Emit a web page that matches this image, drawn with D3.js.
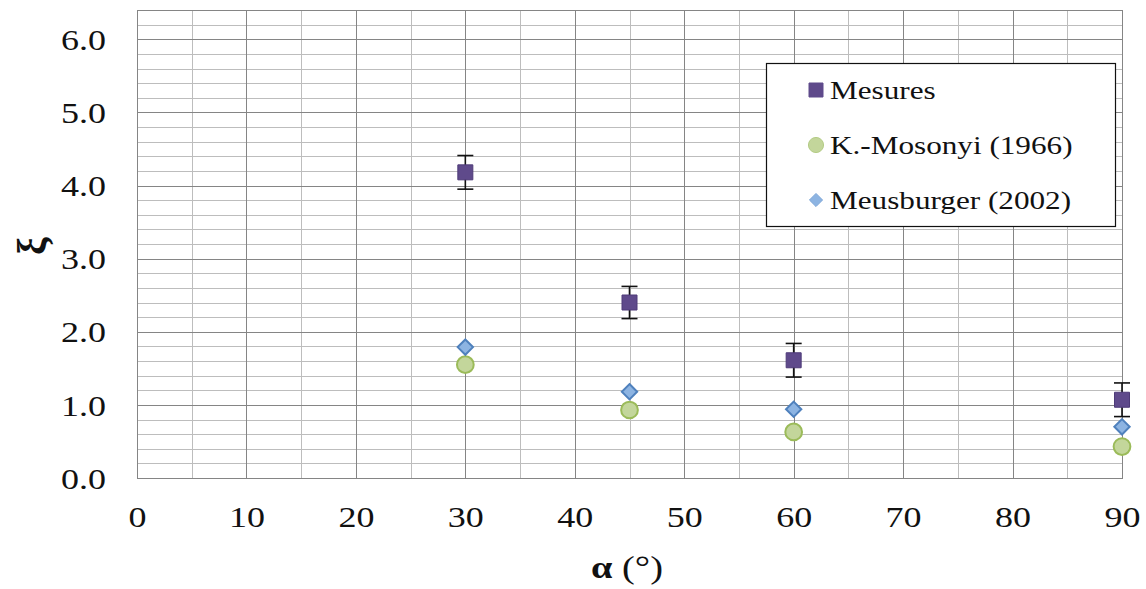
<!DOCTYPE html>
<html>
<head>
    <meta charset="utf-8">
    <title>xi vs alpha</title>
    <script src="https://cdn.jsdelivr.net/npm/d3@7"></script>
    <style>
        body { margin: 0; background: #fff; }
        text { font-family: "Liberation Serif", "Times New Roman", serif; fill: #111; }
    </style>
</head>
<body>
    <script>
        // data
        var angles = [30, 45, 60, 90];
        var mesures = [4.18, 2.40, 1.61, 1.07];
        var mesuresErr = [0.23, 0.22, 0.23, 0.23];
        var mosonyi = [1.55, 0.93, 0.63, 0.43];
        var meusburger = [1.79, 1.18, 0.94, 0.70];
        var xTicks = [0, 10, 20, 30, 40, 50, 60, 70, 80, 90];
        var yTicks = [0, 1, 2, 3, 4, 5, 6];
        var seriesNames = ["Mesures", "K.-Mosonyi (1966)", "Meusburger (2002)"];

        var W = 1146, H = 589;
        var margin = {top: 10, right: 24, bottom: 111, left: 137};
        var width = W - margin.left - margin.right,
            height = H - margin.top - margin.bottom;
        var SX = 1.2; // the source picture is a bit stretched sideways

        var x = d3.scaleLinear().domain([0, 90]).range([0, width]);
        var y = d3.scaleLinear().domain([0, 6.4]).range([height, 0]);

        // stretch text sideways around its own x position
        function stretch(sel) {
            sel.each(function() {
                var t = d3.select(this);
                var tx = +t.attr("x") || 0;
                var ty = +t.attr("y") || 0;
                t.attr("x", 0).attr("y", 0)
                    .attr("transform", "translate(" + tx + "," + ty + ") scale(" + SX + ",1)");
            });
        }

        var svg = d3.select("body").append("svg")
            .attr("width", W)
            .attr("height", H);
        var g = svg.append("g")
            .attr("transform", "translate(" + margin.left + "," + margin.top + ")");

        // minor grid
        g.append("g")
            .selectAll("line")
            .data(d3.range(0, 6.41, 0.2))
            .enter().append("line")
            .attr("x1", 0).attr("x2", width)
            .attr("y1", function(d) { return Math.round(y(d)) + 0.5; })
            .attr("y2", function(d) { return Math.round(y(d)) + 0.5; })
            .attr("stroke", "#bdbdbd");
        g.append("g")
            .selectAll("line")
            .data(d3.range(5, 90, 10))
            .enter().append("line")
            .attr("y1", 0).attr("y2", height)
            .attr("x1", function(d) { return Math.round(x(d)) + 0.5; })
            .attr("x2", function(d) { return Math.round(x(d)) + 0.5; })
            .attr("stroke", "#bdbdbd");

        // major grid
        g.append("g")
            .selectAll("line")
            .data(yTicks)
            .enter().append("line")
            .attr("x1", 0).attr("x2", width)
            .attr("y1", function(d) { return Math.round(y(d)) + 0.5; })
            .attr("y2", function(d) { return Math.round(y(d)) + 0.5; })
            .attr("stroke", "#858585");
        g.append("g")
            .selectAll("line")
            .data(xTicks)
            .enter().append("line")
            .attr("y1", 0).attr("y2", height)
            .attr("x1", function(d) { return Math.round(x(d)) + 0.5; })
            .attr("x2", function(d) { return Math.round(x(d)) + 0.5; })
            .attr("stroke", "#858585");

        // frame
        g.append("rect")
            .attr("x", 0.5).attr("y", 0.5)
            .attr("width", width).attr("height", height)
            .attr("fill", "none")
            .attr("stroke", "#858585");

        // axes
        var xAxis = d3.axisBottom(x).tickValues(xTicks).tickSize(0).tickPadding(28);
        var yAxis = d3.axisLeft(y).tickValues(yTicks).tickSize(0).tickPadding(31)
            .tickFormat(d3.format(".1f"));

        g.append("g")
            .attr("transform", "translate(0," + height + ")")
            .call(xAxis)
            .call(function(s) { s.select(".domain").remove(); })
            .selectAll("text")
            .attr("font-size", 30)
            .attr("dy", "0.71em")
            .style("fill", "#111")
            .call(stretch);

        g.append("g")
            .call(yAxis)
            .call(function(s) { s.select(".domain").remove(); })
            .selectAll("text")
            .attr("font-size", 30)
            .attr("dy", "0.34em")
            .style("fill", "#111")
            .call(stretch);

        // axis titles
        svg.append("text")
            .attr("transform", "translate(45,246) rotate(-90)")
            .attr("text-anchor", "middle")
            .attr("font-size", 40)
            .attr("font-weight", "bold")
            .text("ξ");

        var xt = svg.append("text")
            .attr("x", 627).attr("y", 578)
            .attr("text-anchor", "middle")
            .attr("font-size", 32);
        xt.append("tspan").attr("font-weight", "bold").text("α");
        xt.append("tspan").text(" (°)");
        xt.call(stretch);

        // error bars
        var capW = 8;
        var eb = g.append("g").attr("stroke", "#111").attr("stroke-width", 1.6);
        eb.selectAll("line.v")
            .data(angles)
            .enter().append("line")
            .attr("class", "v")
            .attr("x1", function(d) { return x(d); })
            .attr("x2", function(d) { return x(d); })
            .attr("y1", function(d, i) { return y(mesures[i] + mesuresErr[i]); })
            .attr("y2", function(d, i) { return y(mesures[i] - mesuresErr[i]); });
        eb.selectAll("line.top")
            .data(angles)
            .enter().append("line")
            .attr("class", "top")
            .attr("x1", function(d) { return x(d) - capW; })
            .attr("x2", function(d) { return x(d) + capW; })
            .attr("y1", function(d, i) { return y(mesures[i] + mesuresErr[i]); })
            .attr("y2", function(d, i) { return y(mesures[i] + mesuresErr[i]); });
        eb.selectAll("line.bot")
            .data(angles)
            .enter().append("line")
            .attr("class", "bot")
            .attr("x1", function(d) { return x(d) - capW; })
            .attr("x2", function(d) { return x(d) + capW; })
            .attr("y1", function(d, i) { return y(mesures[i] - mesuresErr[i]); })
            .attr("y2", function(d, i) { return y(mesures[i] - mesuresErr[i]); });

        // markers
        var sq = d3.symbol().type(d3.symbolSquare).size(225);
        var ci = d3.symbol().type(d3.symbolCircle).size(220);
        var di = d3.symbol().type(d3.symbolDiamond2).size(150);

        g.append("g").selectAll("path")
            .data(angles)
            .enter().append("path")
            .attr("d", ci)
            .attr("transform", function(d, i) { return "translate(" + x(d) + "," + y(mosonyi[i]) + ")"; })
            .attr("fill", "#c3d69b")
            .attr("stroke", "#9bbb59")
            .attr("stroke-width", 2);

        g.append("g").selectAll("path")
            .data(angles)
            .enter().append("path")
            .attr("d", di)
            .attr("transform", function(d, i) { return "translate(" + x(d) + "," + y(meusburger[i]) + ")"; })
            .attr("fill", "#8db4e2")
            .attr("stroke", "#4f81bd")
            .attr("stroke-width", 2);

        g.append("g").selectAll("path")
            .data(angles)
            .enter().append("path")
            .attr("d", sq)
            .attr("transform", function(d, i) { return "translate(" + x(d) + "," + y(mesures[i]) + ")"; })
            .attr("fill", "#5f4a8b")
            .attr("stroke", "#4e3b78")
            .attr("stroke-width", 1);

        // legend
        var lg = svg.append("g").attr("transform", "translate(766,63)");
        lg.append("rect")
            .attr("x", 0.5).attr("y", 0.5)
            .attr("width", 349).attr("height", 163)
            .attr("fill", "#fff")
            .attr("stroke", "#111")
            .attr("stroke-width", 1.2);

        var legendSymbols = [
            {sym: d3.symbol().type(d3.symbolSquare).size(196), fill: "#5f4a8b", stroke: "#5f4a8b"},
            {sym: d3.symbol().type(d3.symbolCircle).size(180), fill: "#c3d69b", stroke: "#b4cc85"},
            {sym: d3.symbol().type(d3.symbolDiamond2).size(110), fill: "#8db4e2", stroke: "#7ea7d8"}
        ];
        var items = lg.selectAll("g.item")
            .data(seriesNames)
            .enter().append("g")
            .attr("class", "item")
            .attr("transform", function(d, i) { return "translate(0," + (27 + i * 55) + ")"; });
        items.append("path")
            .attr("d", function(d, i) { return legendSymbols[i].sym(); })
            .attr("transform", "translate(50,0)")
            .attr("fill", function(d, i) { return legendSymbols[i].fill; })
            .attr("stroke", function(d, i) { return legendSymbols[i].stroke; });
        items.append("text")
            .attr("x", 64)
            .attr("y", 9)
            .attr("font-size", 26)
            .text(function(d) { return d; })
            .call(stretch);
    </script>
</body>
</html>
